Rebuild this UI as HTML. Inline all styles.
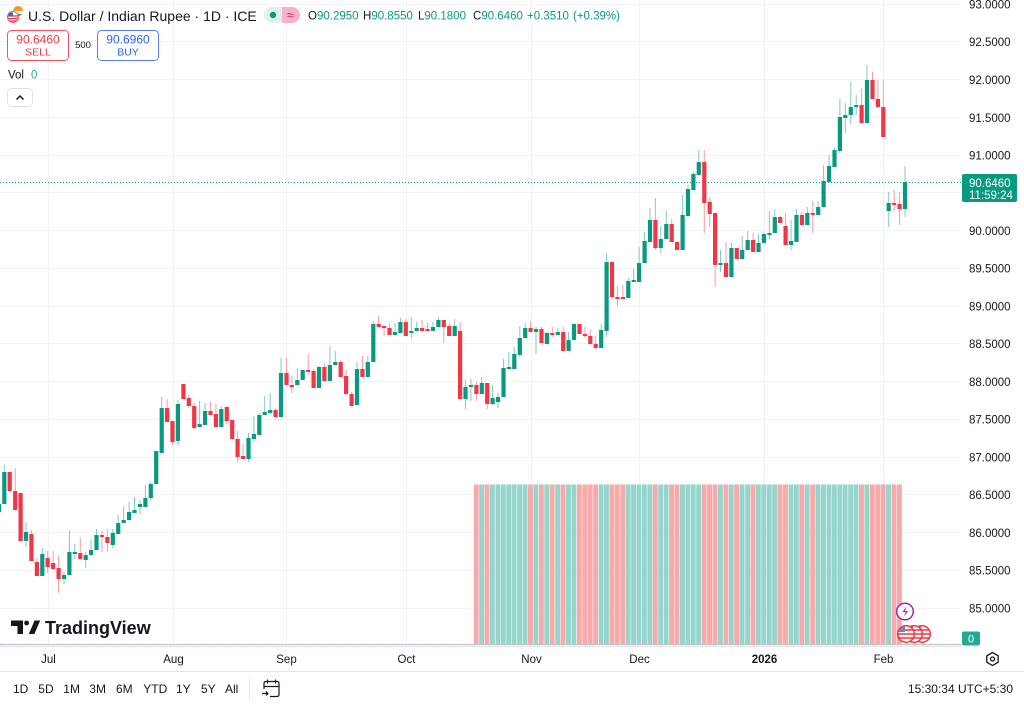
<!DOCTYPE html>
<html><head><meta charset="utf-8">
<style>
html,body{margin:0;padding:0;background:#fff;}
svg{display:block;font-family:"Liberation Sans",sans-serif;}
</style></head>
<body>
<svg width="1024" height="707" viewBox="0 0 1024 707" xmlns="http://www.w3.org/2000/svg">
<rect width="1024" height="707" fill="#fff"/>
<!-- grid -->
<g stroke="#f0f2f6" stroke-width="1">
<path d="M0 4.5H961M0 41.5H961M0 79.5H961M0 117.5H961M0 155.5H961M0 192.5H961M0 230.5H961M0 268.5H961M0 306.5H961M0 343.5H961M0 381.5H961M0 419.5H961M0 457.5H961M0 494.5H961M0 532.5H961M0 570.5H961M0 608.5H961"/>
<path d="M48.5 0V646M173.5 0V646M286.5 0V646M406.5 0V646M531.5 0V646M639.5 0V646M764.5 0V646M883.5 0V646"/>
</g>
<!-- volume -->
<path fill="#96d5cc" d="M479.2 484.5h4.9v160.5h-4.9zM490 484.5h4.9v160.5h-4.9zM495.5 484.5h4.9v160.5h-4.9zM500.9 484.5h4.9v160.5h-4.9zM506.3 484.5h4.9v160.5h-4.9zM511.7 484.5h4.9v160.5h-4.9zM517.2 484.5h4.9v160.5h-4.9zM522.6 484.5h4.9v160.5h-4.9zM533.4 484.5h4.9v160.5h-4.9zM544.3 484.5h4.9v160.5h-4.9zM555.2 484.5h4.9v160.5h-4.9zM566 484.5h4.9v160.5h-4.9zM571.4 484.5h4.9v160.5h-4.9zM598.6 484.5h4.9v160.5h-4.9zM604 484.5h4.9v160.5h-4.9zM625.7 484.5h4.9v160.5h-4.9zM631.1 484.5h4.9v160.5h-4.9zM636.5 484.5h4.9v160.5h-4.9zM642 484.5h4.9v160.5h-4.9zM647.4 484.5h4.9v160.5h-4.9zM658.2 484.5h4.9v160.5h-4.9zM663.7 484.5h4.9v160.5h-4.9zM680 484.5h4.9v160.5h-4.9zM685.4 484.5h4.9v160.5h-4.9zM690.8 484.5h4.9v160.5h-4.9zM696.2 484.5h4.9v160.5h-4.9zM717.9 484.5h4.9v160.5h-4.9zM728.8 484.5h4.9v160.5h-4.9zM739.6 484.5h4.9v160.5h-4.9zM745.1 484.5h4.9v160.5h-4.9zM755.9 484.5h4.9v160.5h-4.9zM761.3 484.5h4.9v160.5h-4.9zM766.8 484.5h4.9v160.5h-4.9zM772.2 484.5h4.9v160.5h-4.9zM788.5 484.5h4.9v160.5h-4.9zM793.9 484.5h4.9v160.5h-4.9zM804.7 484.5h4.9v160.5h-4.9zM815.6 484.5h4.9v160.5h-4.9zM821 484.5h4.9v160.5h-4.9zM826.5 484.5h4.9v160.5h-4.9zM831.9 484.5h4.9v160.5h-4.9zM837.3 484.5h4.9v160.5h-4.9zM842.7 484.5h4.9v160.5h-4.9zM848.2 484.5h4.9v160.5h-4.9zM853.6 484.5h4.9v160.5h-4.9zM864.4 484.5h4.9v160.5h-4.9zM886.1 484.5h4.9v160.5h-4.9z"/>
<path fill="#f7aaa9" d="M473.8 484.5h4.9v160.5h-4.9zM484.6 484.5h4.9v160.5h-4.9zM528 484.5h4.9v160.5h-4.9zM538.9 484.5h4.9v160.5h-4.9zM549.7 484.5h4.9v160.5h-4.9zM560.6 484.5h4.9v160.5h-4.9zM576.9 484.5h4.9v160.5h-4.9zM582.3 484.5h4.9v160.5h-4.9zM587.7 484.5h4.9v160.5h-4.9zM593.1 484.5h4.9v160.5h-4.9zM609.4 484.5h4.9v160.5h-4.9zM614.8 484.5h4.9v160.5h-4.9zM620.3 484.5h4.9v160.5h-4.9zM652.8 484.5h4.9v160.5h-4.9zM669.1 484.5h4.9v160.5h-4.9zM674.5 484.5h4.9v160.5h-4.9zM701.7 484.5h4.9v160.5h-4.9zM707.1 484.5h4.9v160.5h-4.9zM712.5 484.5h4.9v160.5h-4.9zM723.4 484.5h4.9v160.5h-4.9zM734.2 484.5h4.9v160.5h-4.9zM750.5 484.5h4.9v160.5h-4.9zM777.6 484.5h4.9v160.5h-4.9zM783 484.5h4.9v160.5h-4.9zM799.3 484.5h4.9v160.5h-4.9zM810.2 484.5h4.9v160.5h-4.9zM859 484.5h4.9v160.5h-4.9zM869.9 484.5h4.9v160.5h-4.9zM875.3 484.5h4.9v160.5h-4.9zM880.7 484.5h4.9v160.5h-4.9zM891.6 484.5h4.9v160.5h-4.9zM897 484.5h4.9v160.5h-4.9z"/>
<!-- dashed zero line -->
<line x1="0" y1="644.5" x2="961" y2="644.5" stroke="#f7a8a8" stroke-dasharray="4 4"/>
<line x1="4" y1="644.5" x2="961" y2="644.5" stroke="#9ad8cf" stroke-dasharray="4 4"/>
<!-- last price line -->
<line x1="0" y1="182.5" x2="962" y2="182.5" stroke="#089981" stroke-dasharray="1 2"/>
<!-- wicks -->
<path fill="none" stroke="#80cbbe" stroke-width="1" d="M-1.1 500V512M4.3 465V504M26 522V547M42.3 548V576M64 572V584M69.4 530V575M74.8 544V559M85.7 552V568M91.1 540V555M96.5 529V550M112.8 529V548M118.2 515V534M123.7 506V523M129.1 502V520M134.5 497V513M140 500V514M145.4 485V507M150.8 482V501M156.2 451V484M161.7 397V453M177.9 400V445M199.6 401V427M205.1 403V425M221.3 406V427M248.5 433V462M253.9 416V442M259.3 413V435M264.7 396V415M270.2 393V413M281 358V417M297.3 368V385M302.7 369V380M319 366V388M329.9 346V381M335.3 351V365M357 362V405M367.8 356V377M373.3 321V362M395 323V335M400.4 318V333M411.3 317V338M416.7 322V331M433 322V331M438.4 317V327M454.7 319V336M465.5 380V409M470.9 379V401M481.8 377V394M492.6 385V405M498.1 393V408M503.5 359V397M508.9 352V369M514.3 347V369M519.8 326V357M525.2 323V338M536 327V354M546.9 332V344M557.8 328V335M568.6 332V351M574 323V340M601.2 324V348M606.6 253V337M628.3 278V298M633.7 269V282M639.1 247V282M644.6 232V263M650 208V242M660.8 226V253M666.3 211V239M682.6 195V250M688 185V217M693.4 172V190M698.8 150V175M720.5 250V272M731.4 243V277M742.2 236V259M747.7 231V250M758.5 234V252M763.9 233V243M769.4 211V239M774.8 209V233M791.1 220V250M796.5 209V242M807.3 207V225M818.2 201V215M823.6 165V207M829.1 155V182M834.5 148V167M839.9 99V153M845.3 103V133M850.8 82V124M856.2 95V115M867 65V123M888.7 192V227M905 166V217"/>
<path fill="none" stroke="#f79ca4" stroke-width="1" d="M9.7 472V492M15.2 468V510M20.6 493V541M31.4 530V561M36.9 558V576M47.7 551V573M53.1 551V569M58.6 555V593M80.3 538V559M102 531V552M107.4 529V552M167.1 399V422M172.5 421V445M183.4 384V399M188.8 395V408M194.2 403V430M210.5 402V415M215.9 404V427M226.8 407V424M232.2 420V439M237.6 431V462M243 444V459M275.6 408V417M286.5 358V385M291.9 376V393M308.2 354V375M313.6 369V388M324.4 363V381M340.7 360V377M346.1 370V394M351.6 392V407M362.4 356V377M378.7 316V327M384.1 325V336M389.5 324V335M405.8 319V336M422.1 320V331M427.5 323V331M443.8 320V343M449.2 323V336M460.1 322V399M476.4 382V401M487.2 383V409M530.6 321V332M541.5 327V343M552.3 327V337M563.2 327V351M579.5 324V334M584.9 327V338M590.3 330V344M595.7 336V350M612 262V299M617.4 286V306M622.9 285V299M655.4 198V250M671.7 219V242M677.1 242V250M704.3 150V233M709.7 197V227M715.1 213V287M726 242V277M736.8 248V259M753.1 233V252M780.2 216V223M785.6 213V245M801.9 212V225M812.8 201V233M861.6 88V123M872.5 72V99M877.9 80V107M883.3 80V137M894.2 190V211M899.6 192V225"/>
<!-- bodies -->
<path fill="#089981" d="M-3.2 504h4.2V512h-4.2zM2.2 472h4.2V504h-4.2zM23.9 532h4.2V541h-4.2zM40.2 554h4.2V576h-4.2zM61.9 575h4.2V579h-4.2zM67.3 552h4.2V575h-4.2zM72.7 552h4.2V554h-4.2zM83.6 555h4.2V560h-4.2zM89 550h4.2V555h-4.2zM94.4 535h4.2V550h-4.2zM110.7 533h4.2V545h-4.2zM116.1 523h4.2V534h-4.2zM121.6 520h4.2V523h-4.2zM127 512h4.2V520h-4.2zM132.4 510h4.2V513h-4.2zM137.9 504h4.2V507h-4.2zM143.3 498h4.2V507h-4.2zM148.7 484h4.2V498h-4.2zM154.1 451h4.2V484h-4.2zM159.6 408h4.2V453h-4.2zM175.8 404h4.2V441h-4.2zM197.5 424h4.2V427h-4.2zM203 411h4.2V425h-4.2zM219.2 409h4.2V427h-4.2zM246.4 438h4.2V459h-4.2zM251.8 434h4.2V439h-4.2zM257.2 415h4.2V435h-4.2zM262.6 412h4.2V415h-4.2zM268.1 410h4.2V413h-4.2zM278.9 373h4.2V417h-4.2zM295.2 380h4.2V385h-4.2zM300.6 370h4.2V380h-4.2zM316.9 367h4.2V388h-4.2zM327.8 365h4.2V381h-4.2zM333.2 362h4.2V365h-4.2zM354.9 369h4.2V405h-4.2zM365.7 362h4.2V377h-4.2zM371.2 324h4.2V362h-4.2zM392.9 332h4.2V335h-4.2zM398.3 322h4.2V333h-4.2zM409.2 331h4.2V333h-4.2zM414.6 328h4.2V331h-4.2zM430.9 327h4.2V331h-4.2zM436.3 320h4.2V327h-4.2zM452.6 326h4.2V336h-4.2zM463.4 387h4.2V399h-4.2zM468.8 385h4.2V387h-4.2zM479.7 383h4.2V394h-4.2zM490.5 398h4.2V404h-4.2zM496 397h4.2V402h-4.2zM501.4 368h4.2V397h-4.2zM506.8 367h4.2V369h-4.2zM512.2 354h4.2V369h-4.2zM517.7 338h4.2V355h-4.2zM523.1 328h4.2V338h-4.2zM533.9 329h4.2V332h-4.2zM544.8 333h4.2V344h-4.2zM555.7 332h4.2V335h-4.2zM566.5 340h4.2V351h-4.2zM571.9 324h4.2V340h-4.2zM599.1 330h4.2V348h-4.2zM604.5 262h4.2V331h-4.2zM626.2 281h4.2V298h-4.2zM631.6 280h4.2V282h-4.2zM637 263h4.2V282h-4.2zM642.5 241h4.2V263h-4.2zM647.9 220h4.2V242h-4.2zM658.7 239h4.2V248h-4.2zM664.2 224h4.2V239h-4.2zM680.5 215h4.2V250h-4.2zM685.9 189h4.2V216h-4.2zM691.3 174h4.2V190h-4.2zM696.7 162h4.2V175h-4.2zM718.4 263h4.2V265h-4.2zM729.3 248h4.2V277h-4.2zM740.1 250h4.2V259h-4.2zM745.6 240h4.2V250h-4.2zM756.4 243h4.2V252h-4.2zM761.8 234h4.2V243h-4.2zM767.3 233h4.2V235h-4.2zM772.7 217h4.2V233h-4.2zM789 241h4.2V245h-4.2zM794.4 215h4.2V242h-4.2zM805.2 213h4.2V225h-4.2zM816.1 207h4.2V215h-4.2zM821.5 181h4.2V207h-4.2zM827 166h4.2V182h-4.2zM832.4 150h4.2V167h-4.2zM837.8 117h4.2V151h-4.2zM843.2 115h4.2V118h-4.2zM848.7 107h4.2V115h-4.2zM854.1 105h4.2V107h-4.2zM864.9 80h4.2V123h-4.2zM886.6 203h4.2V211h-4.2zM902.9 182h4.2V209h-4.2z"/>
<path fill="#f23645" d="M7.6 472h4.2V491h-4.2zM13.1 491h4.2V510h-4.2zM18.5 493h4.2V541h-4.2zM29.3 534h4.2V561h-4.2zM34.8 562h4.2V576h-4.2zM45.6 558h4.2V567h-4.2zM51 563h4.2V569h-4.2zM56.5 568h4.2V579h-4.2zM78.2 553h4.2V559h-4.2zM99.9 535h4.2V537h-4.2zM105.3 537h4.2V543h-4.2zM165 408h4.2V422h-4.2zM170.4 421h4.2V442h-4.2zM181.3 384h4.2V399h-4.2zM186.7 398h4.2V406h-4.2zM192.1 406h4.2V428h-4.2zM208.4 411h4.2V415h-4.2zM213.8 414h4.2V427h-4.2zM224.7 407h4.2V421h-4.2zM230.1 420h4.2V439h-4.2zM235.5 439h4.2V457h-4.2zM240.9 456h4.2V459h-4.2zM273.5 410h4.2V417h-4.2zM284.4 373h4.2V385h-4.2zM289.8 385h4.2V387h-4.2zM306.1 370h4.2V372h-4.2zM311.5 371h4.2V388h-4.2zM322.3 367h4.2V381h-4.2zM338.6 362h4.2V377h-4.2zM344 376h4.2V394h-4.2zM349.5 394h4.2V406h-4.2zM360.3 369h4.2V377h-4.2zM376.6 324h4.2V327h-4.2zM382 326h4.2V328h-4.2zM387.4 328h4.2V335h-4.2zM403.7 322h4.2V336h-4.2zM420 328h4.2V331h-4.2zM425.4 329h4.2V331h-4.2zM441.7 320h4.2V327h-4.2zM447.1 326h4.2V336h-4.2zM458 331h4.2V399h-4.2zM474.3 385h4.2V394h-4.2zM485.1 383h4.2V404h-4.2zM528.5 328h4.2V332h-4.2zM539.4 329h4.2V343h-4.2zM550.2 333h4.2V335h-4.2zM561.1 332h4.2V351h-4.2zM577.4 324h4.2V334h-4.2zM582.8 334h4.2V336h-4.2zM588.2 336h4.2V344h-4.2zM593.6 344h4.2V348h-4.2zM609.9 262h4.2V297h-4.2zM615.3 297h4.2V299h-4.2zM620.8 297h4.2V299h-4.2zM653.3 220h4.2V248h-4.2zM669.6 224h4.2V242h-4.2zM675 242h4.2V250h-4.2zM702.2 162h4.2V203h-4.2zM707.6 202h4.2V214h-4.2zM713 213h4.2V265h-4.2zM723.9 263h4.2V277h-4.2zM734.7 248h4.2V259h-4.2zM751 240h4.2V252h-4.2zM778.1 217h4.2V223h-4.2zM783.5 226h4.2V245h-4.2zM799.8 215h4.2V225h-4.2zM810.7 213h4.2V215h-4.2zM859.5 105h4.2V123h-4.2zM870.4 80h4.2V99h-4.2zM875.8 99h4.2V107h-4.2zM881.2 107h4.2V137h-4.2zM892.1 203h4.2V205h-4.2zM897.5 204h4.2V209h-4.2z"/>

<!-- price axis labels -->
<g font-size="11.5" fill="#131722">
<text x="969" y="8.5">93.0000</text>
<text x="969" y="46">92.5000</text>
<text x="969" y="84">92.0000</text>
<text x="969" y="122">91.5000</text>
<text x="969" y="159.5">91.0000</text>
<text x="969" y="235">90.0000</text>
<text x="969" y="272.5">89.5000</text>
<text x="969" y="310.5">89.0000</text>
<text x="969" y="348">88.5000</text>
<text x="969" y="386">88.0000</text>
<text x="969" y="423.5">87.5000</text>
<text x="969" y="461.5">87.0000</text>
<text x="969" y="499">86.5000</text>
<text x="969" y="537">86.0000</text>
<text x="969" y="574.5">85.5000</text>
<text x="969" y="612.5">85.0000</text>
</g>
<rect x="962" y="174" width="55" height="28" rx="2" fill="#089981"/>
<text x="969" y="187" font-size="11.5" fill="#fff">90.6460</text>
<text x="969" y="199" font-size="11.5" fill="#fff">11:59:24</text>
<rect x="962" y="631.5" width="18" height="14" rx="2" fill="#22ab94"/>
<text x="971" y="642.5" font-size="11" fill="#fff" text-anchor="middle">0</text>

<!-- pane borders -->
<line x1="0" y1="646.5" x2="961" y2="646.5" stroke="#e0e3eb"/>
<line x1="0" y1="671.5" x2="1024" y2="671.5" stroke="#e0e3eb"/>

<!-- time axis -->
<g font-size="11.5" fill="#131722" text-anchor="middle">
<text x="48.5" y="663">Jul</text>
<text x="173.5" y="663">Aug</text>
<text x="286.5" y="663">Sep</text>
<text x="406.5" y="663">Oct</text>
<text x="531.5" y="663">Nov</text>
<text x="639.5" y="663">Dec</text>
<text x="764.5" y="663" font-weight="bold">2026</text>
<text x="883.5" y="663">Feb</text>
</g>
<polygon points="992.5,652.5 998.2,655.8 998.2,662.2 992.5,665.5 986.8,662.2 986.8,655.8" fill="none" stroke="#131722" stroke-width="1.3"/>
<circle cx="992.5" cy="659" r="2" fill="none" stroke="#131722" stroke-width="1.3"/>

<!-- bottom toolbar -->
<g font-size="12" fill="#131722">
<text x="13" y="693">1D</text>
<text x="38.3" y="693">5D</text>
<text x="63.3" y="693">1M</text>
<text x="89.3" y="693">3M</text>
<text x="116" y="693">6M</text>
<text x="143.3" y="693">YTD</text>
<text x="176" y="693">1Y</text>
<text x="201" y="693">5Y</text>
<text x="225" y="693">All</text>
<text x="1013" y="693" text-anchor="end">15:30:34 UTC+5:30</text>
</g>
<line x1="249.5" y1="679" x2="249.5" y2="699" stroke="#e0e3eb"/>
<g fill="none" stroke="#131722" stroke-width="1.2">
<path d="M264 689V683.5q0-2 2-2h11q2 0 2 2v11q0 2-2 2h-7"/>
<path d="M264 686.5h15M267.5 679.5v4M275.5 679.5v4"/>
<path d="M262 693.5h6M266 691.5l2 2-2 2"/>
</g>

<!-- TradingView logo -->
<path d="M11 620.5h12v13.5h-5.5v-8h-6.5z" fill="#131722"/>
<circle cx="26.6" cy="623" r="2.4" fill="#131722"/>
<polygon points="28.8,634 34.6,620.5 40.2,620.5 34.4,634" fill="#131722"/>
<text x="45" y="634" font-size="18" font-weight="bold" fill="#131722">TradingView</text>

<!-- event icons -->
<circle cx="905" cy="611.5" r="8.3" fill="#fff" stroke="#9c27b0" stroke-width="1.5"/>
<path d="M906.5 606.5l-4 5.5h3l-1.5 4.5 4-5.5h-3z" fill="#9c27b0"/>
<defs>
<clipPath id="f1"><circle cx="922" cy="634" r="8"/></clipPath>
<clipPath id="f2"><circle cx="914" cy="634" r="8"/></clipPath>
<clipPath id="f3"><circle cx="906" cy="634" r="8"/></clipPath>
</defs>
<g>
<circle cx="922" cy="634" r="8.5" fill="#fff"/>
<g clip-path="url(#f1)"><path d="M912 630h20M912 634h20M912 638h20" stroke="#f23645" stroke-width="1.6"/><rect x="914" y="626" width="7" height="6" fill="#5b8fd6"/></g>
<circle cx="922" cy="634" r="8.3" fill="none" stroke="#f23645" stroke-width="1.5"/>
<circle cx="914" cy="634" r="8.5" fill="#fff"/>
<g clip-path="url(#f2)"><path d="M904 630h20M904 634h20M904 638h20" stroke="#f23645" stroke-width="1.6"/><rect x="906" y="626" width="7" height="6" fill="#5b8fd6"/></g>
<circle cx="914" cy="634" r="8.3" fill="none" stroke="#f23645" stroke-width="1.5"/>
<circle cx="906" cy="634" r="8.5" fill="#fff"/>
<g clip-path="url(#f3)"><path d="M896 630h20M896 634h20M896 638h20" stroke="#f23645" stroke-width="1.6"/><rect x="898" y="626" width="7" height="6" fill="#5b8fd6"/></g>
<circle cx="906" cy="634" r="8.3" fill="none" stroke="#f23645" stroke-width="1.5"/>
</g>

<!-- header -->
<circle cx="18" cy="12" r="5" fill="#fff"/>
<path d="M13 11a5 5 0 0 1 10 0z" fill="#f59a23"/>
<path d="M14 14a5 5 0 0 0 8 0z" fill="#2e9e49"/>
<circle cx="13" cy="17" r="5.5" fill="#fff" stroke="#f23645" stroke-width="0.8"/>
<path d="M8 16h10M8 18.5h10M9 21h8" stroke="#f23645" stroke-width="1.2"/>
<rect x="8.5" y="12.5" width="4.5" height="4" fill="#3a6fc4"/>
<text x="28" y="21" font-size="14" fill="#131722">U.S. Dollar / Indian Rupee · 1D · ICE</text>
<path d="M272 7h10v16h-10a8 8 0 0 1 0-16z" fill="#dff2ee"/>
<path d="M282 7h10a8 8 0 0 1 0 16h-10z" fill="#f6b3c7"/>
<circle cx="273" cy="15" r="3.2" fill="#089981"/>
<text x="290.5" y="19.5" font-size="13" fill="#e0245e" text-anchor="middle">≈</text>
<g font-size="11.5">
<text x="308" y="19.5" fill="#131722">O<tspan fill="#089981">90.2950</tspan></text>
<text x="363" y="19.5" fill="#131722">H<tspan fill="#089981">90.8550</tspan></text>
<text x="418" y="19.5" fill="#131722">L<tspan fill="#089981">90.1800</tspan></text>
<text x="473" y="19.5" fill="#131722">C<tspan fill="#089981">90.6460</tspan></text>
<text x="527" y="19.5" fill="#089981">+0.3510</text>
<text x="573" y="19.5" fill="#089981">(+0.39%)</text>
</g>
<rect x="7.5" y="30.5" width="61" height="30" rx="4" fill="#fff" stroke="#f7525f"/>
<text x="38" y="43.5" font-size="12" fill="#f23645" text-anchor="middle">90.6460</text>
<text x="38" y="55.5" font-size="10.5" fill="#f23645" text-anchor="middle">SELL</text>
<text x="83" y="48" font-size="9.5" fill="#131722" text-anchor="middle">500</text>
<rect x="97.5" y="30.5" width="61" height="30" rx="4" fill="#fff" stroke="#5b7cff"/>
<text x="128" y="43.5" font-size="12" fill="#2962ff" text-anchor="middle">90.6960</text>
<text x="128" y="55.5" font-size="10.5" fill="#2962ff" text-anchor="middle">BUY</text>
<text x="8" y="78.5" font-size="11.5" fill="#131722">Vol</text>
<text x="31" y="78.5" font-size="11.5" fill="#22ab94">0</text>
<rect x="7.5" y="88.5" width="25" height="18" rx="4" fill="#fff" stroke="#e0e3eb"/>
<path d="M16.5 99.5l3.5-3.5 3.5 3.5" fill="none" stroke="#131722" stroke-width="1.5"/>
</svg>
</body></html>
